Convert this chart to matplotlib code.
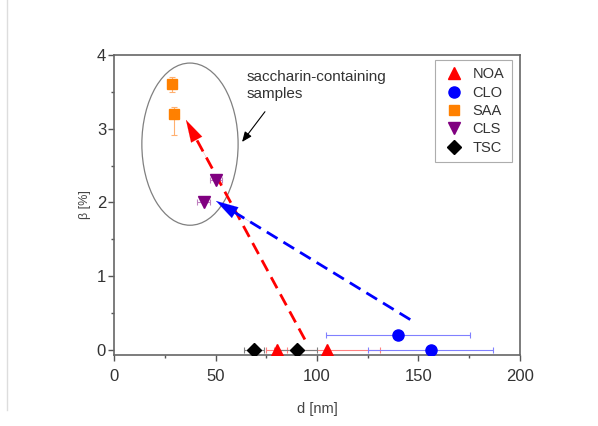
import numpy as np
import matplotlib.pyplot as plt
from matplotlib.patches import Ellipse
from matplotlib.lines import Line2D

plt.rcParams['font.family'] = ['Liberation Sans', 'DejaVu Sans']

# --- Data ---
noa_d = [80, 105]
noa_b = [0.0, 0.0]
noa_derr = [5, 26]

clo_d = [140, 156]
clo_b = [0.2, 0.0]
clo_derr = [35.5, 31]

saa_d = [28.5, 29.5]
saa_b = [3.6, 3.2]
saa_berr_lo = [0.1, 0.28]
saa_berr_hi = [0.1, 0.1]

cls_d = [50, 44]
cls_b = [2.3, 2.0]
cls_derr = [3, 3]

tsc_d = [69, 90]
tsc_b = [0.0, 0.0]
tsc_derr = [5, 10]

# trend arrows (start -> end)
red_arrow = ((94, 0.14), (35.3, 3.12))
blue_arrow = ((146, 0.41), (50.1, 2.02))

fig = plt.figure(figsize=(5.98, 4.26), dpi=100)
ax = fig.add_axes([0.1913, 0.1667, 0.6777, 0.7043])

# thin border line at the left of the image
fig.add_artist(Line2D([0.0117, 0.0117], [0.038, 1.0], color='#dddddd', lw=1.0,
                      transform=fig.transFigure))

ebkw = dict(linestyle='none', elinewidth=0.8, capsize=2, capthick=0.8, zorder=3)

ax.errorbar(noa_d, noa_b, xerr=noa_derr, ecolor='#ff8080', **ebkw)
ax.errorbar(clo_d, clo_b, xerr=clo_derr, ecolor='#8080ff', **ebkw)
ax.errorbar(saa_d, saa_b, yerr=[saa_berr_lo, saa_berr_hi], ecolor='#ffb070', **ebkw)
ax.errorbar(cls_d, cls_b, xerr=cls_derr, ecolor='#c080c0', **ebkw)
ax.errorbar(tsc_d, tsc_b, xerr=tsc_derr, ecolor='#808080', **ebkw)

ax.plot(noa_d, noa_b, '^', color='#ff0000', ms=9, mec='#ff0000', zorder=5, label='NOA')
ax.plot(clo_d, clo_b, 'o', color='#0000ff', ms=8, mec='#0000ff', zorder=5, label='CLO')
ax.plot(saa_d, saa_b, 's', color='#ff8000', ms=7, mec='#ff8000', zorder=5, label='SAA')
ax.plot(cls_d, cls_b, 'v', color='#800080', ms=9, mec='#800080', zorder=5, label='CLS')
ax.plot(tsc_d, tsc_b, 'D', color='black', ms=7, mec='black', zorder=5, label='TSC')


def dashed_arrow(start, end, color):
    (x0, y0), (x1, y1) = start, end
    # line stops a bit before the tip, head is drawn by annotate
    f = 0.92
    xm, ym = x0 + f * (x1 - x0), y0 + f * (y1 - y0)
    ax.plot([x0, xm], [y0, ym], color=color, lw=2.0, ls=(0, (4.5, 2.5)), zorder=4)
    xh, yh = x0 + 0.8 * (x1 - x0), y0 + 0.8 * (y1 - y0)
    ax.annotate('', xy=(x1, y1), xytext=(xh, yh),
                arrowprops=dict(arrowstyle='-|>,head_length=1.6,head_width=0.45',
                                color=color, lw=0.1, shrinkA=0, shrinkB=0),
                zorder=4)


dashed_arrow(*red_arrow, '#ff0000')
dashed_arrow(*blue_arrow, '#0000ff')

ell = Ellipse((37.3, 2.79), 47.5, 2.2, fill=False, edgecolor='#808080', lw=0.9, zorder=2)
ax.add_patch(ell)

ax.text(65, 3.8, 'saccharin-containing\nsamples', fontsize=11, color='#333333',
        ha='left', va='top', linespacing=1.3)
ax.annotate('', xy=(63, 2.82), xytext=(74.3, 3.23),
            arrowprops=dict(arrowstyle='-|>,head_length=0.6,head_width=0.25',
                            color='black', lw=0.8, shrinkA=0, shrinkB=0))

ax.set_xlim(0, 200)
ax.set_ylim(-0.07, 4)
ax.set_xticks([0, 50, 100, 150, 200])
ax.set_xticks([25, 75, 125, 175], minor=True)
ax.set_yticks([0, 1, 2, 3, 4])
ax.set_yticks([0.5, 1.5, 2.5, 3.5], minor=True)
ax.tick_params(which='major', direction='out', length=4, width=1, colors='#555555',
               labelcolor='#333333', labelsize=12)
ax.tick_params(axis='x', which='major', pad=6)
ax.tick_params(axis='y', which='major', pad=2)
ax.tick_params(which='minor', direction='out', length=2.5, width=1, colors='#555555')
for s in ax.spines.values():
    s.set_color('#666666')
    s.set_linewidth(1.2)

ax.set_xlabel('d [nm]', fontsize=10.5, color='#444444', labelpad=13)
ax.set_ylabel('β [%]', fontsize=9, color='#444444', labelpad=4)

leg = ax.legend(loc='upper right', bbox_to_anchor=(0.98, 0.983), fontsize=10.5,
                frameon=True, fancybox=False, edgecolor='#999999', handletextpad=0.5,
                borderpad=0.5, labelspacing=0.3, handlelength=1.6, borderaxespad=0)
leg.get_frame().set_linewidth(0.8)
for t in leg.get_texts():
    t.set_color('#333333')

plt.savefig('out.png', dpi=100)
